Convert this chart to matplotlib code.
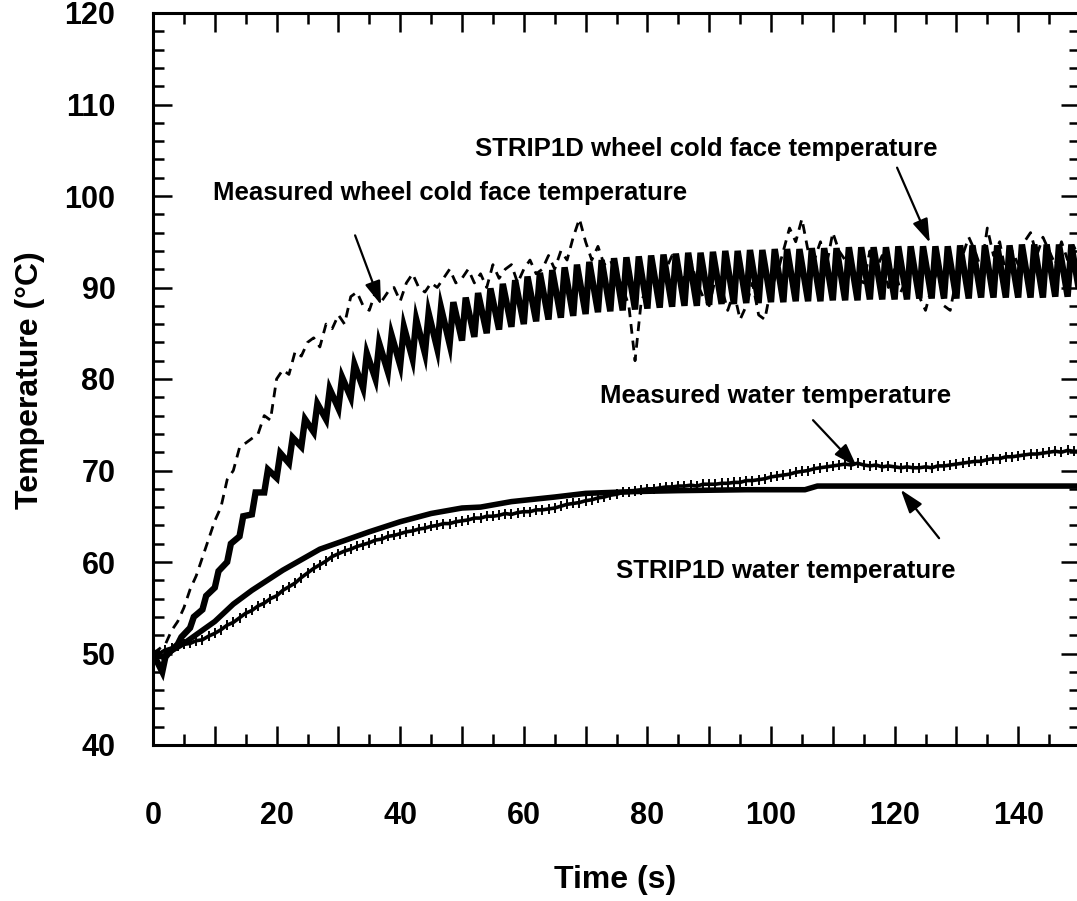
import numpy as np
import matplotlib
matplotlib.use("Agg")
import matplotlib.pyplot as plt
from matplotlib.ticker import MultipleLocator, FuncFormatter

plt.rcParams['font.family'] = ['Liberation Sans', 'DejaVu Sans']
plt.rcParams['font.weight'] = 'bold'

# ---- data ----
# measured wheel cold face temperature (dashed), 1 s samples
meas_wheel_t = np.arange(0, 151, 1)
meas_wheel = [
    50.0, 50.5, 51.0, 52.5, 53.5, 55.0, 57.0, 58.5, 60.5, 62.5,
    64.5, 66.0, 69.0, 70.0, 72.5, 73.0, 73.5, 74.0, 76.0, 75.5,
    80.0, 81.0, 80.5, 83.0, 82.5, 84.0, 84.5, 83.5, 86.0, 85.5,
    87.0, 86.0, 89.0, 89.5, 88.0, 87.5, 89.5, 88.5, 89.5, 90.0,
    88.5, 90.5, 91.5, 90.0, 89.5, 90.5, 90.0, 91.0, 92.0, 90.5,
    91.0, 92.0, 90.5, 91.5, 90.0, 92.5, 91.0, 92.0, 92.5, 90.5,
    92.0, 93.0, 91.5, 92.0, 93.5, 92.0, 94.0, 93.0, 95.5, 97.5,
    95.0, 93.0, 94.5, 92.5, 93.0, 91.5, 90.0, 88.0, 82.0, 88.5,
    90.0, 91.5, 90.0, 92.0, 93.5, 92.0, 91.0, 93.0, 90.5, 89.0,
    88.0, 91.0, 90.0, 87.5, 89.5, 86.5, 88.0, 90.5, 87.0, 86.5,
    90.0, 91.5, 94.0, 96.5, 95.0, 97.5, 94.0, 93.0, 95.0, 92.5,
    96.0, 94.0, 93.0, 92.0, 91.0, 90.5, 94.0, 92.0, 93.5, 90.0,
    92.0, 89.5, 91.0, 93.0, 89.0, 87.5, 90.0, 92.0, 88.0, 87.5,
    91.0, 93.5, 95.5, 94.0, 92.0, 96.5, 93.5, 95.0, 91.5, 94.0,
    92.5, 95.0, 96.0, 93.5, 95.5, 94.0, 92.5, 95.0, 93.0, 94.5,
    93.0,
]

# STRIP1D wheel cold face: start, then one tooth every 2 s (trough / peak)
strip_wheel_start_t = [0.0, 1.5]
strip_wheel_start = [50.0, 48.0]
tooth_t = np.arange(2, 150, 2)
tooth_trough = [
    49.6, 51.0, 52.8, 54.8, 57.2, 60.0, 62.8, 65.2, 67.6, 69.2,
    70.8, 72.6, 74.2, 75.6, 76.8, 78.0, 79.0, 80.0, 80.8, 81.5,
    82.2, 82.8, 83.3, 83.8, 84.2, 84.6, 85.0, 85.4, 85.7, 86.0,
    86.3, 86.5, 86.7, 86.9, 87.1, 87.3, 87.4, 87.5, 87.6, 87.7,
    87.8, 87.9, 88.0, 88.0, 88.1, 88.2, 88.2, 88.3, 88.3, 88.4,
    88.4, 88.5, 88.5, 88.5, 88.6, 88.6, 88.6, 88.7, 88.7, 88.7,
    88.7, 88.8, 88.8, 88.8, 88.8, 88.8, 88.9, 88.9, 88.9, 88.9,
    88.9, 88.9, 89.0, 89.0,
]
tooth_peak = [
    50.1, 51.8, 54.0, 56.3, 59.0, 62.0, 65.0, 67.6, 70.1, 71.9,
    73.6, 75.6, 77.3, 78.9, 80.2, 81.6, 82.8, 83.9, 84.8, 85.7,
    86.5, 87.2, 87.8, 88.4, 88.9, 89.4, 89.9, 90.4, 90.8, 91.2,
    91.6, 91.9, 92.2, 92.5, 92.8, 93.0, 93.2, 93.3, 93.4, 93.5,
    93.6, 93.7, 93.8, 93.8, 93.9, 94.0, 94.0, 94.1, 94.1, 94.2,
    94.2, 94.2, 94.3, 94.3, 94.3, 94.4, 94.4, 94.4, 94.4, 94.5,
    94.5, 94.5, 94.5, 94.5, 94.6, 94.6, 94.6, 94.6, 94.6, 94.7,
    94.7, 94.7, 94.7, 94.7,
]
strip_wheel_end_t = [150.0]
strip_wheel_end = [89.0]

# measured water temperature, 1 s samples
meas_water_t = np.arange(0, 151, 1)
meas_water = [
    50.3, 50.0, 50.4, 50.6, 50.8, 51.0, 51.1, 51.4, 51.5, 51.9,
    52.2, 52.6, 53.1, 53.4, 53.9, 54.4, 54.7, 55.2, 55.5, 56.0,
    56.3, 56.9, 57.3, 57.7, 58.3, 58.8, 59.3, 59.7, 60.1, 60.6,
    60.9, 61.2, 61.4, 61.7, 61.9, 62.1, 62.4, 62.5, 62.8, 62.9,
    63.1, 63.3, 63.4, 63.6, 63.7, 63.9, 64.0, 64.2, 64.2, 64.4,
    64.5, 64.6, 64.8, 64.8, 65.0, 65.0, 65.1, 65.3, 65.2, 65.4,
    65.5, 65.5, 65.7, 65.7, 65.8, 65.9, 66.1, 66.3, 66.4, 66.5,
    66.7, 66.8, 67.0, 67.1, 67.3, 67.4, 67.6, 67.6, 67.8, 67.9,
    68.0, 68.0, 68.1, 68.2, 68.2, 68.3, 68.3, 68.4, 68.3, 68.5,
    68.5, 68.5, 68.6, 68.6, 68.7, 68.7, 68.9, 68.9, 69.0, 69.1,
    69.3, 69.4, 69.5, 69.6, 69.8, 69.9, 70.0, 70.2, 70.3, 70.4,
    70.5, 70.6, 70.7, 70.6, 70.8, 70.6, 70.5, 70.6, 70.4, 70.5,
    70.4, 70.3, 70.4, 70.3, 70.3, 70.4, 70.3, 70.5, 70.5, 70.6,
    70.7, 70.8, 70.9, 71.0, 71.0, 71.2, 71.3, 71.3, 71.5, 71.5,
    71.6, 71.7, 71.8, 71.8, 71.9, 72.0, 72.1, 72.0, 72.2, 72.1,
    72.1,
]

# STRIP1D water temperature
strip_water_t = [0, 1.6, 3, 5, 10, 13, 16, 21, 27, 35, 40, 45, 50, 53, 58,
                 65, 70, 78, 85, 96, 105.5, 107.5, 150]
strip_water = [50.0, 49.6, 50.3, 51.1, 53.5, 55.4, 56.9, 59.1, 61.4, 63.3,
               64.4, 65.3, 65.9, 66.0, 66.6, 67.1, 67.5, 67.7, 67.8, 67.9,
               67.9, 68.3, 68.3]

# callouts: label, text position, arrow tail, arrow tip
labels = ["Measured wheel cold face temperature",
          "STRIP1D wheel cold face temperature",
          "Measured water temperature",
          "STRIP1D water temperature"]
label_xy = [(48.1, 100.3), (89.6, 105.1), (100.8, 78.1), (102.4, 59.0)]
arrow_tail = [(32.7, 95.7), (120.4, 103.1), (106.8, 75.5), (127.2, 62.6)]
arrow_tip = [(36.9, 88.1), (125.7, 94.9), (113.9, 70.4), (121.0, 67.9)]

# ---- build sawtooth path for STRIP1D wheel ----
sw_t = list(strip_wheel_start_t)
sw_v = list(strip_wheel_start)
for t, lo, hi in zip(tooth_t, tooth_trough, tooth_peak):
    sw_t += [t, t + 0.6]
    sw_v += [lo, hi]
sw_t += strip_wheel_end_t
sw_v += strip_wheel_end

# ---- plot ----
fig = plt.figure(figsize=(10.77, 9.01), dpi=100)
ax = fig.add_axes([153 / 1077, 156 / 901, 927 / 1077, 732 / 901])

ax.plot(meas_wheel_t, meas_wheel, color='black', lw=2.0, dashes=(3.5, 2.5))
ax.plot(sw_t, sw_v, color='black', lw=4.6, solid_joinstyle='miter')
ax.plot(meas_water_t, meas_water, color='black', lw=2.6,
        marker='|', markersize=7, markeredgewidth=1.4)
ax.plot(strip_water_t, strip_water, color='black', lw=4.0)

for txt, (tx, ty) in zip(labels, label_xy):
    ax.text(tx, ty, txt, ha='center', va='center', fontsize=18.5,
            fontweight='bold')
for (x0, y0), (x1, y1) in zip(arrow_tail, arrow_tip):
    ax.annotate("", xy=(x1, y1), xytext=(x0, y0),
                arrowprops=dict(arrowstyle="-|>,head_length=0.9,head_width=0.3",
                                color='black', lw=1.6, mutation_scale=16,
                                shrinkA=0, shrinkB=0))

ax.set_xlim(0, 150)
ax.set_ylim(40, 120)
ax.xaxis.set_major_locator(MultipleLocator(10))
ax.xaxis.set_minor_locator(MultipleLocator(5))
ax.yaxis.set_major_locator(MultipleLocator(10))
ax.yaxis.set_minor_locator(MultipleLocator(2))
ax.xaxis.set_major_formatter(FuncFormatter(
    lambda v, p: f"{int(round(v))}" if round(v) % 20 == 0 and v < 149 else ""))
ax.yaxis.set_major_formatter(FuncFormatter(lambda v, p: f"{int(round(v))}"))

ax.tick_params(which='both', direction='in', top=True, right=True,
               width=1.8, labelsize=22)
ax.tick_params(which='major', length=14)
ax.tick_params(which='minor', length=8)
ax.tick_params(axis='y', which='major', pad=27)
ax.tick_params(axis='x', which='major', pad=40)
for lab in ax.get_xticklabels() + ax.get_yticklabels():
    lab.set_fontweight('bold')
for sp in ax.spines.values():
    sp.set_linewidth(2.2)

fig.text(615 / 1077, 1 - 880 / 901, "Time (s)", ha='center', va='center',
         fontsize=23, fontweight='bold')
fig.text(30 / 1077, 1 - 380 / 901, "Temperature (\u00b0C)", ha='center',
         va='center', rotation=90, fontsize=23, fontweight='bold')

fig.savefig("out.png", dpi=100)
